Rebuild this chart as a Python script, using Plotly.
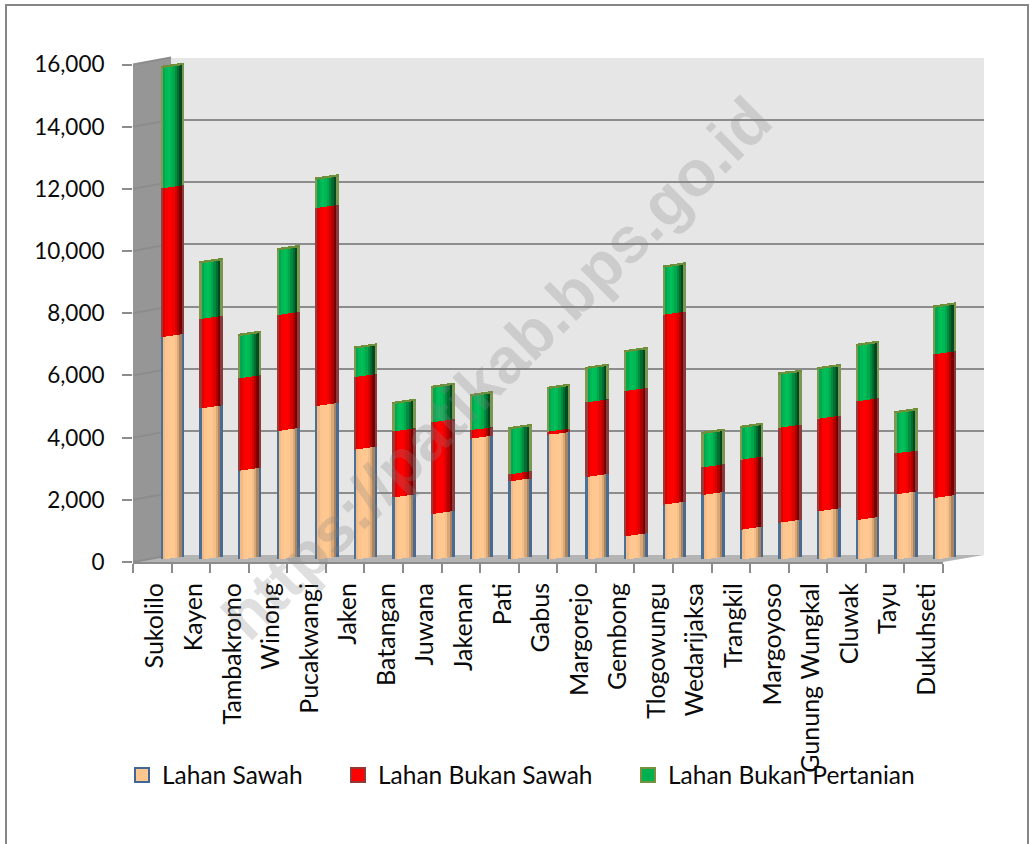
import plotly.graph_objects as go

W, H = 1030, 844

districts = ["Sukolilo", "Kayen", "Tambakromo", "Winong", "Pucakwangi", "Jaken", "Batangan",
             "Juwana", "Jakenan", "Pati", "Gabus", "Margorejo", "Gembong", "Tlogowungu",
             "Wedarijaksa", "Trangkil", "Margoyoso", "Gunung Wungkal", "Cluwak", "Tayu", "Dukuhseti"]
lahan_sawah = [7160, 4860, 2860, 4130, 4940, 3530, 2000, 1460, 3890, 2510, 4010,
               2650, 750, 1760, 2080, 960, 1190, 1550, 1270, 2100, 1980]
lahan_bukan_sawah = [4780, 2880, 2970, 3730, 6370, 2340, 2120, 2950, 270, 230, 100,
                     2410, 4670, 6110, 890, 2250, 3050, 2980, 3820, 1310, 4620]
lahan_bukan_pertanian = [3870, 1790, 1360, 2080, 910, 910, 880, 1110, 1090, 1450, 1370,
                         1070, 1240, 1520, 1070, 1020, 1700, 1590, 1780, 1290, 1500]
y_ticks = [0, 2000, 4000, 6000, 8000, 10000, 12000, 14000, 16000]

series_names = ["Lahan Sawah", "Lahan Bukan Sawah", "Lahan Bukan Pertanian"]
series_values = [lahan_sawah, lahan_bukan_sawah, lahan_bukan_pertanian]

# strip colours left to right, fakes the cylinder shading
shades = [
    ["#4a7096", "#f2ba86", "#fcc48e", "#ffc890", "#ffc890", "#ffc890", "#f5bf8a", "#d8a878", "#a88460", "#4a6a90"],
    ["#943c3c", "#e00000", "#f80000", "#ff0000", "#ff0000", "#f00000", "#d80000", "#b00000", "#780000", "#8a3a3a"],
    ["#7f9a50", "#00a850", "#00b858", "#00c05a", "#00b854", "#00a84c", "#008c40", "#006c30", "#004a20", "#7a9650"],
]
legend_fill = ["#ffc78f", "#ff0000", "#00b050"]
legend_edge = ["#3f6797", "#953735", "#76923c"]
legend_x = [122, 338, 628]
cap_color = "#6f8f3a"


def px(x):
    return x / W


def py(y):
    return 1 - y / H


fig = go.Figure()

# back wall grid lives on x/y, bars on x2/y2, ticks on x3/y3, category labels on x4
fig.add_trace(go.Scatter(x=[0], y=[0], mode="markers", marker=dict(opacity=0), showlegend=False,
                         hoverinfo="skip", xaxis="x", yaxis="y"))
fig.add_trace(go.Bar(x=districts, y=[0] * len(districts), showlegend=False, hoverinfo="skip",
                     marker=dict(opacity=0), xaxis="x3", yaxis="y3"))
fig.add_trace(go.Bar(x=districts, y=[0] * len(districts), showlegend=False, hoverinfo="skip",
                     marker=dict(opacity=0), xaxis="x4", yaxis="y3"))

bar_width = 0.6
n_strips = 10
strip = bar_width / n_strips
tilt = 95  # bar ends lean upward to the right
base = [0] * len(districts)
for s, vals in enumerate(series_values):
    for k in range(n_strips):
        lift = tilt * k / (n_strips - 1)
        fig.add_trace(go.Bar(
            x=districts, y=vals, base=[b + lift for b in base],
            width=strip * 1.15, offset=-bar_width / 2 + k * strip,
            marker=dict(color=shades[s][k], line=dict(width=0)),
            showlegend=False, xaxis="x2", yaxis="y2"))
    base = [b + v for b, v in zip(base, vals)]

# top cap of the cylinders
for k in range(n_strips):
    lift = tilt * k / (n_strips - 1)
    fig.add_trace(go.Bar(
        x=districts, y=[75] * len(districts), base=[b + lift for b in base],
        width=strip * 1.15, offset=-bar_width / 2 + k * strip,
        marker=dict(color=cap_color, line=dict(width=0)),
        showlegend=False, xaxis="x2", yaxis="y2"))

# legend swatches
for s, name in enumerate(series_names):
    fig.add_trace(go.Scatter(
        x=[districts[0]], y=[None], name=name, mode="markers",
        marker=dict(symbol="square", size=14, color=legend_fill[s], line=dict(color=legend_edge[s], width=2)),
        legend="legend" if s == 0 else "legend%d" % (s + 1), xaxis="x2", yaxis="y2"))

# walls, floor, side grid
grid = "#8c8c8c"
scale = (562 - 64.5) / 16000
shapes = [
    dict(type="rect", xref="paper", yref="paper", x0=px(171), x1=px(984), y0=py(555), y1=py(58),
         fillcolor="#e6e6e6", line=dict(width=0), layer="below"),
    dict(type="path", xref="paper", yref="paper", layer="below", fillcolor="#969696", line=dict(width=0),
         path="M%f,%f L%f,%f L%f,%f L%f,%f Z" % (px(133), py(562), px(171), py(555), px(171), py(58), px(133), py(64.5))),
    dict(type="path", xref="paper", yref="paper", layer="below", fillcolor="#b4b4b4", line=dict(width=0),
         path="M%f,%f L%f,%f L%f,%f L%f,%f Z" % (px(133), py(562), px(171), py(555), px(984), py(555), px(943), py(562))),
    dict(type="rect", xref="paper", yref="paper", x0=px(6), x1=px(1028), y0=py(850), y1=py(5),
         fillcolor="rgba(0,0,0,0)", line=dict(color="#868686", width=2), layer="below"),
]
for t in y_ticks:
    front = 562 - t * scale
    shapes.append(dict(type="line", xref="paper", yref="paper", x0=px(133), x1=px(171),
                       y0=py(front), y1=py(front - 7), line=dict(color=grid, width=2), layer="below"))

fig.update_layout(
    width=W, height=H,
    margin=dict(l=0, r=0, t=0, b=0, autoexpand=False),
    paper_bgcolor="white", plot_bgcolor="rgba(0,0,0,0)",
    barmode="overlay", bargap=0,
    font=dict(family="Lato", size=22.5, color="#0a0a0a"),
    shapes=shapes,
    xaxis=dict(domain=[px(171), px(984)], range=[0, 1], visible=False, anchor="y"),
    yaxis=dict(domain=[py(555), py(58)], range=[0, 16000], tickvals=y_ticks, showgrid=True,
               gridcolor=grid, gridwidth=2, showticklabels=False, ticks="", showline=False,
               zeroline=False, anchor="x"),
    xaxis2=dict(domain=[px(152.7), px(963.5)], range=[-0.5, 20.5], type="category", categoryarray=districts,
                visible=False, anchor="y2"),
    yaxis2=dict(domain=[py(559), py(61.5)], range=[0, 16000], visible=False, anchor="x2"),
    xaxis3=dict(domain=[px(133), px(943)], range=[-0.5, 20.5], type="category", categoryarray=districts,
                tickmode="array", tickvals=districts, tickson="boundaries", showticklabels=False,
                ticks="outside", ticklen=9, tickwidth=2, tickcolor=grid,
                showline=True, linecolor=grid, linewidth=2, showgrid=False, anchor="y3"),
    xaxis4=dict(domain=[px(136), px(946)], range=[-0.5, 20.5], type="category", categoryarray=districts,
                tickmode="array", tickvals=districts, ticktext=districts, tickangle=-90,
                ticks="outside", ticklen=9, tickcolor="rgba(0,0,0,0)", tickfont=dict(size=25),
                ticklabelstandoff=1, showline=False, showgrid=False, anchor="y3"),
    yaxis3=dict(domain=[py(562), py(64.5)], range=[0, 16000], tickvals=y_ticks, tickformat=",",
                ticks="outside", ticklen=10, tickwidth=2, tickcolor=grid, showline=False,
                ticklabelstandoff=13,
                showgrid=False, zeroline=False, anchor="x3"),
    annotations=[dict(text="https://patikab.bps.go.id", xref="paper", yref="paper", x=px(497), y=py(368),
                      xanchor="center", yanchor="middle", showarrow=False, textangle=-44.6,
                      font=dict(family="Liberation Sans", size=64, color="rgba(130,130,130,0.26)", weight="bold"))],
)

for s in range(3):
    key = "legend" if s == 0 else "legend%d" % (s + 1)
    fig.update_layout({key: dict(x=px(legend_x[s]), y=py(775), xanchor="left", yanchor="middle",
                                 orientation="h", bgcolor="rgba(0,0,0,0)", font=dict(size=24.5),
                                 itemwidth=30, itemclick=False)})

fig.write_html("out.html", post_script="document.body.style.margin='0';", config=dict(displayModeBar=False))
